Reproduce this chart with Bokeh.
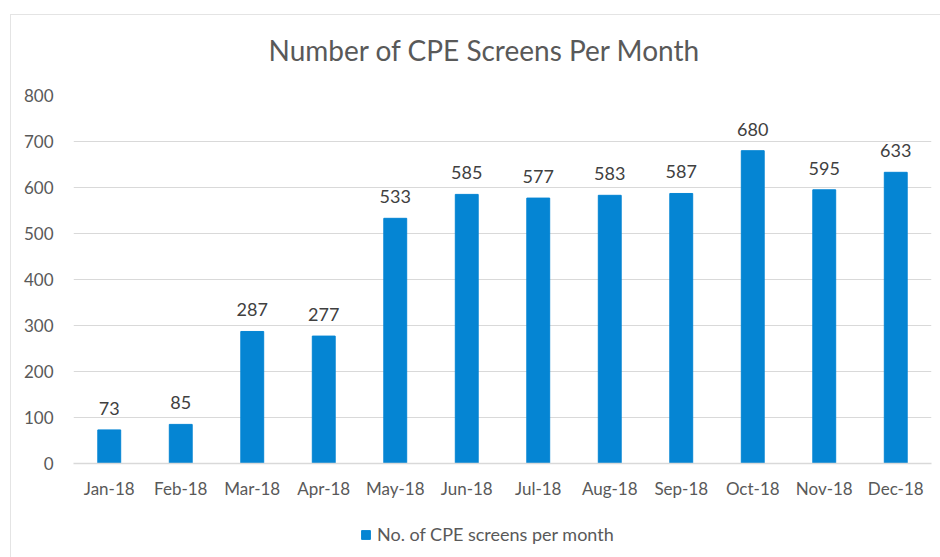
from bokeh.plotting import figure
from bokeh.layouts import column
from bokeh.core.properties import value
from bokeh.models import ColumnDataSource, Legend, LegendItem, Range1d, FixedTicker, LabelSet, InlineStyleSheet
from bokeh.embed import file_html
from bokeh.resources import INLINE

months = ["Jan-18", "Feb-18", "Mar-18", "Apr-18", "May-18", "Jun-18",
          "Jul-18", "Aug-18", "Sep-18", "Oct-18", "Nov-18", "Dec-18"]
screens = [73, 85, 287, 277, 533, 585, 577, 583, 587, 680, 595, 633]
y_ticks = [0, 100, 200, 300, 400, 500, 600, 700, 800]
series_name = "No. of CPE screens per month"
title_text = "Number of CPE Screens Per Month"

FONT = "Lato"
BLUE = "#0585d3"
GRID = "#d9d9d9"
TXT = "#595959"

src = ColumnDataSource(dict(month=months, value=screens, label=[str(v) for v in screens]))

p = figure(width=940, height=510, x_range=months, y_range=Range1d(0, 800),
           output_backend="svg", toolbar_location=None,
           min_border_left=73, min_border_right=9, min_border_top=95, min_border_bottom=47)

p.title.text = title_text
p.title.align = "left"
p.title.offset = 195
p.title.text_font = FONT
p.title.text_font_size = "28px"
p.title.text_font_style = "normal"
p.title.text_color = TXT
p.title.standoff = 58

r = p.vbar(x="month", top="value", width=0.32, source=src, color=BLUE, line_color=BLUE)

labels = LabelSet(x="month", y="value", text="label", source=src, text_align="center",
                  text_baseline="bottom", y_offset=15, text_font=value(FONT),
                  text_font_size=value("18px"), text_color="#404040")
p.add_layout(labels)

p.yaxis.ticker = FixedTicker(ticks=y_ticks)
p.yaxis.axis_line_color = None
p.yaxis.major_tick_line_color = None
p.yaxis.minor_tick_line_color = None
p.yaxis.major_label_standoff = 14
p.xaxis.axis_line_color = GRID
p.xaxis.axis_line_width = 1.5
p.xaxis.major_tick_line_color = None
p.xaxis.major_label_standoff = 8
for ax in (p.xaxis, p.yaxis):
    ax.major_label_text_font = FONT
    ax.major_label_text_font_size = "17px"
    ax.major_label_text_color = TXT

p.xgrid.grid_line_color = None
p.ygrid.grid_line_color = GRID
p.ygrid.grid_line_width = 1.2
p.outline_line_color = None
p.x_range.range_padding = 0

# legend strip below the chart (its bars lie far outside its range, so only the legend shows)
lg = figure(width=940, height=47, x_range=months, y_range=Range1d(5000, 5001),
            output_backend="svg", toolbar_location=None,
            min_border_left=0, min_border_right=0, min_border_top=0, min_border_bottom=0)
lg.axis.visible = False
lg.grid.visible = False
lg.outline_line_color = None
lr = lg.vbar(x="month", top="value", width=0.32, source=src, color=BLUE, line_color=BLUE)
legend = Legend(items=[LegendItem(label=series_name, renderers=[lr])], orientation="horizontal",
                location=(287, 12), label_text_font=FONT, label_text_font_size="18px",
                label_text_color=TXT, glyph_width=11, glyph_height=11, border_line_color=None,
                background_fill_alpha=0, margin=0, padding=2, label_standoff=6)
lg.add_layout(legend)

border_css = InlineStyleSheet(css=":host{position:relative;} :host::after{content:'';position:absolute;left:10px;top:14px;right:-20px;bottom:-20px;border:1px solid #e4e4e4;pointer-events:none;}")
layout = column(p, lg, spacing=0, stylesheets=[border_css])

open("out.html", "w").write(file_html(layout, INLINE))
